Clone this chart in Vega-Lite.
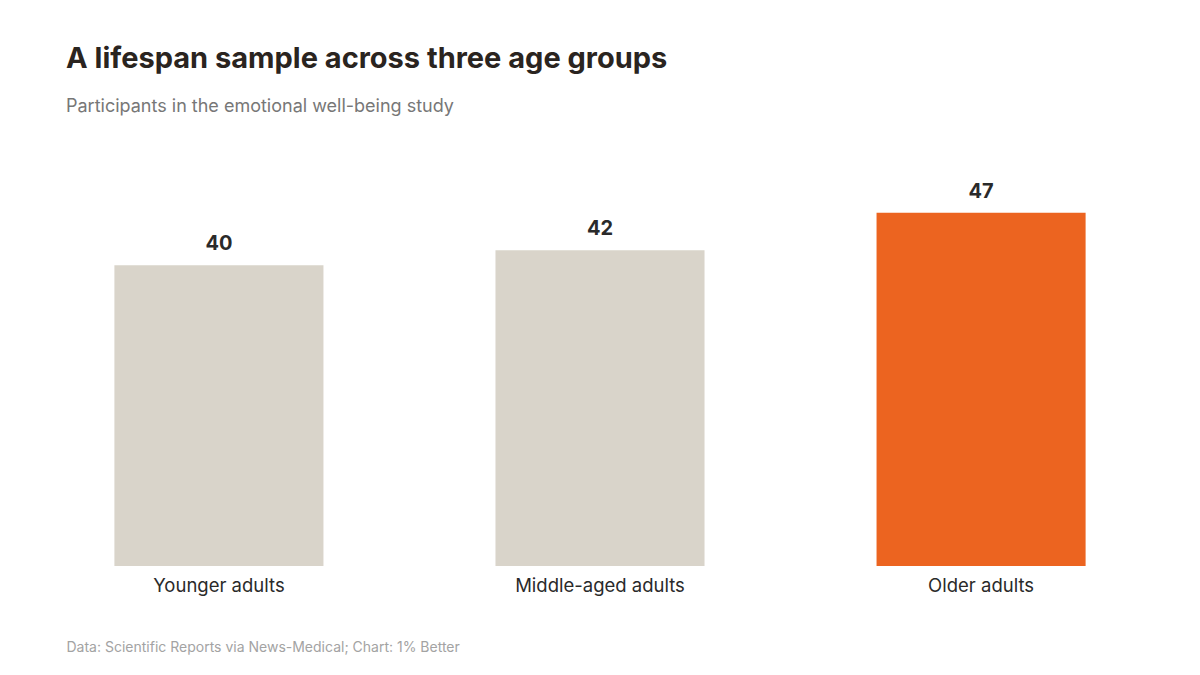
{
  "$schema": "https://vega.github.io/schema/vega-lite/v6.json",
  "autosize": {"type": "none"},
  "width": 1068,
  "height": 406,
  "padding": {"left": 66, "right": 66, "top": 160, "bottom": 109},
  "background": "#ffffff",
  "title": {
    "text": "A lifespan sample across three age groups",
    "subtitle": "Participants in the emotional well-being study",
    "anchor": "start",
    "frame": "group",
    "orient": "top",
    "offset": 44,
    "font": "Inter",
    "fontSize": 29,
    "fontWeight": 700,
    "color": "#2a2420",
    "subtitleFont": "Inter",
    "subtitleFontSize": 18,
    "subtitleColor": "#777777",
    "subtitlePadding": 24
  },
  "data": {
    "values": [
      {"group": "Younger adults", "participants": 40, "highlight": "no"},
      {"group": "Middle-aged adults", "participants": 42, "highlight": "no"},
      {"group": "Older adults", "participants": 47, "highlight": "yes"}
    ]
  },
  "encoding": {
    "x": {
      "field": "group",
      "type": "nominal",
      "sort": null,
      "scale": {"paddingInner": 0.4514, "paddingOuter": 0.127},
      "axis": {
        "title": "Data: Scientific Reports via News-Medical; Chart: 1% Better",
        "titleAnchor": "start",
        "titleAlign": "left",
        "titleFont": "Inter",
        "titleFontSize": 14,
        "titleFontWeight": "normal",
        "titleColor": "#a3a3a3",
        "titlePadding": 46,
        "labelAngle": 0,
        "labelFont": "Inter",
        "labelFontSize": 18.5,
        "labelColor": "#2a2a2a",
        "labelPadding": 10,
        "ticks": false,
        "domain": false
      }
    },
    "y": {
      "field": "participants",
      "type": "quantitative",
      "scale": {"domain": [0, 54]},
      "axis": null
    }
  },
  "layer": [
    {
      "mark": {"type": "bar"},
      "encoding": {
        "color": {
          "field": "highlight",
          "type": "nominal",
          "scale": {"domain": ["no", "yes"], "range": ["#d9d4ca", "#ec6420"]},
          "legend": null
        }
      }
    },
    {
      "mark": {
        "type": "text",
        "baseline": "bottom",
        "dy": -11,
        "font": "Inter",
        "fontSize": 20,
        "fontWeight": 700,
        "color": "#2a2a2a"
      },
      "encoding": {
        "text": {"field": "participants", "type": "quantitative"}
      }
    }
  ],
  "config": {
    "view": {"stroke": null},
    "axis": {"grid": false}
  }
}
